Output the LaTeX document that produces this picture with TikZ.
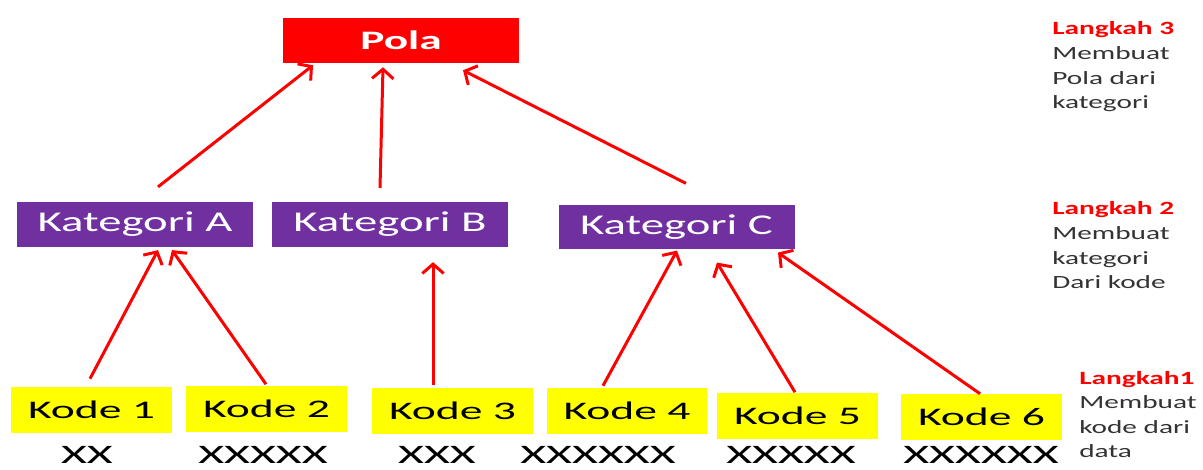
\documentclass[tikz,border=0pt]{standalone}
\usepackage{fontspec}
\setmainfont{Carlito}
\usepackage{graphicx}
\usetikzlibrary{calc,
	positioning,
	arrows.meta}

\definecolor{polared}{HTML}{FF0000}
\definecolor{katpurple}{HTML}{7030A0}
\definecolor{kodeyellow}{HTML}{FFFF00}
\definecolor{notegray}{HTML}{333333}
% the whole sheet is stretched sideways
\newcommand{\wide}[2][1.57]{\scalebox{#1}[1]{#2}}

\tikzset{
	polabox/.style={fill=polared, text=white, inner sep=0pt,
		minimum width=177pt, minimum height=33.75pt,
		font=\fontsize{20}{24}\selectfont\bfseries},
	katbox/.style={fill=katpurple, text=white, inner sep=0pt,
		minimum width=177pt, minimum height=33.5pt,
		font=\fontsize{21.5}{26}\selectfont},
	kodebox/.style={fill=kodeyellow, text=black, inner sep=0pt,
		minimum width=120.5pt, minimum height=34.5pt,
		font=\fontsize{19}{23}\selectfont},
	datatext/.style={anchor=base, inner sep=0pt, text=black,
		font=\fontsize{20}{24}\selectfont},
	stepnote/.style={anchor=base west, inner sep=0pt, text=notegray,
		font=\fontsize{14}{18.4}\selectfont},
	uparrow/.style={draw=polared, line width=2.25pt,
		-{Straight Barb[length=7pt,width=16pt]}},
}

\begin{document}
\begin{tikzpicture}[x=0.75pt, y=-0.75pt]
	\useasboundingbox (0,0) rectangle (1203,470);
	% Top
	\node[polabox] (pola) at (401,40.5) {\wide[1.7]{Pola}};
	% Kategori
	\node[katbox] (katA) at (135,224.5) {\wide[1.63]{Kategori A}};
	\node[katbox] (katB) at (390,224.5) {\wide[1.63]{Kategori B}};
	\node[katbox] (katC) at (676.5,227) {\wide[1.63]{Kategori C}};
	% Kode and data
	\foreach \idx/\x/\y/\dx/\data in {1/91.5/410/87/XX, 2/266.5/408.5/263/XXXXX,
		3/452.5/411/437/XXX, 4/627/411/598/XXXXXX,
		5/797.5/415.5/791/XXXXX, 6/981.5/417/981/XXXXXX} {
		\node[kodebox] (kode\idx) at (\x,\y) {\wide[1.8]{Kode \idx}};
		\node[datatext] (data\idx) at (\dx,463) {\wide[1.87]{\data}};
	}
	% Steps
	\node[stepnote] (step3) at (1052,35) {\wide{\begin{tabular}[t]{@{}l@{}}
		\textcolor{polared}{\bfseries Langkah 3}\\Membuat\\Pola dari\\kategori\end{tabular}}};
	\node[stepnote] (step2) at (1052,215) {\wide{\begin{tabular}[t]{@{}l@{}}
		\textcolor{polared}{\bfseries Langkah 2}\\Membuat\\kategori\\Dari kode\end{tabular}}};
	\node[stepnote] (step1) at (1079,384) {\wide{\begin{tabular}[t]{@{}l@{}}
		\textcolor{polared}{\bfseries Langkah1}\\Membuat\\kode dari\\data\end{tabular}}};
	% Arrows
	\draw[uparrow] ($(katA.north)+(23,-15)$) -- ($(pola.south)+(-88,2)$);
	\draw[uparrow] ($(katB.north)+(-10,-14)$) -- ($(pola.south)+(-18,4)$);
	\draw[uparrow] ($(katC.north)+(9.5,-21)$) -- ($(pola.south)+(62,7)$);
	\draw[uparrow] ($(kode1.north)+(-1.5,-8)$) -- ($(katA.south)+(23,3)$);
	\draw[uparrow] ($(kode2.north)+(-0.5,-1)$) -- ($(katA.south)+(37,3)$);
	\draw[uparrow] ($(kode3.north)+(-19.5,-3)$) -- ($(katB.south)+(43,15)$);
	\draw[uparrow] ($(kode4.north)+(-24,-2)$) -- ($(katC.south)+(0.5,1)$);
	\draw[uparrow] ($(kode5.north)+(-2.5,0)$) -- ($(katC.south)+(40.5,13)$);
	\draw[uparrow] ($(kode6.north)+(-1.5,0)$) -- ($(katC.south)+(101.5,3)$);
\end{tikzpicture}
\end{document}
